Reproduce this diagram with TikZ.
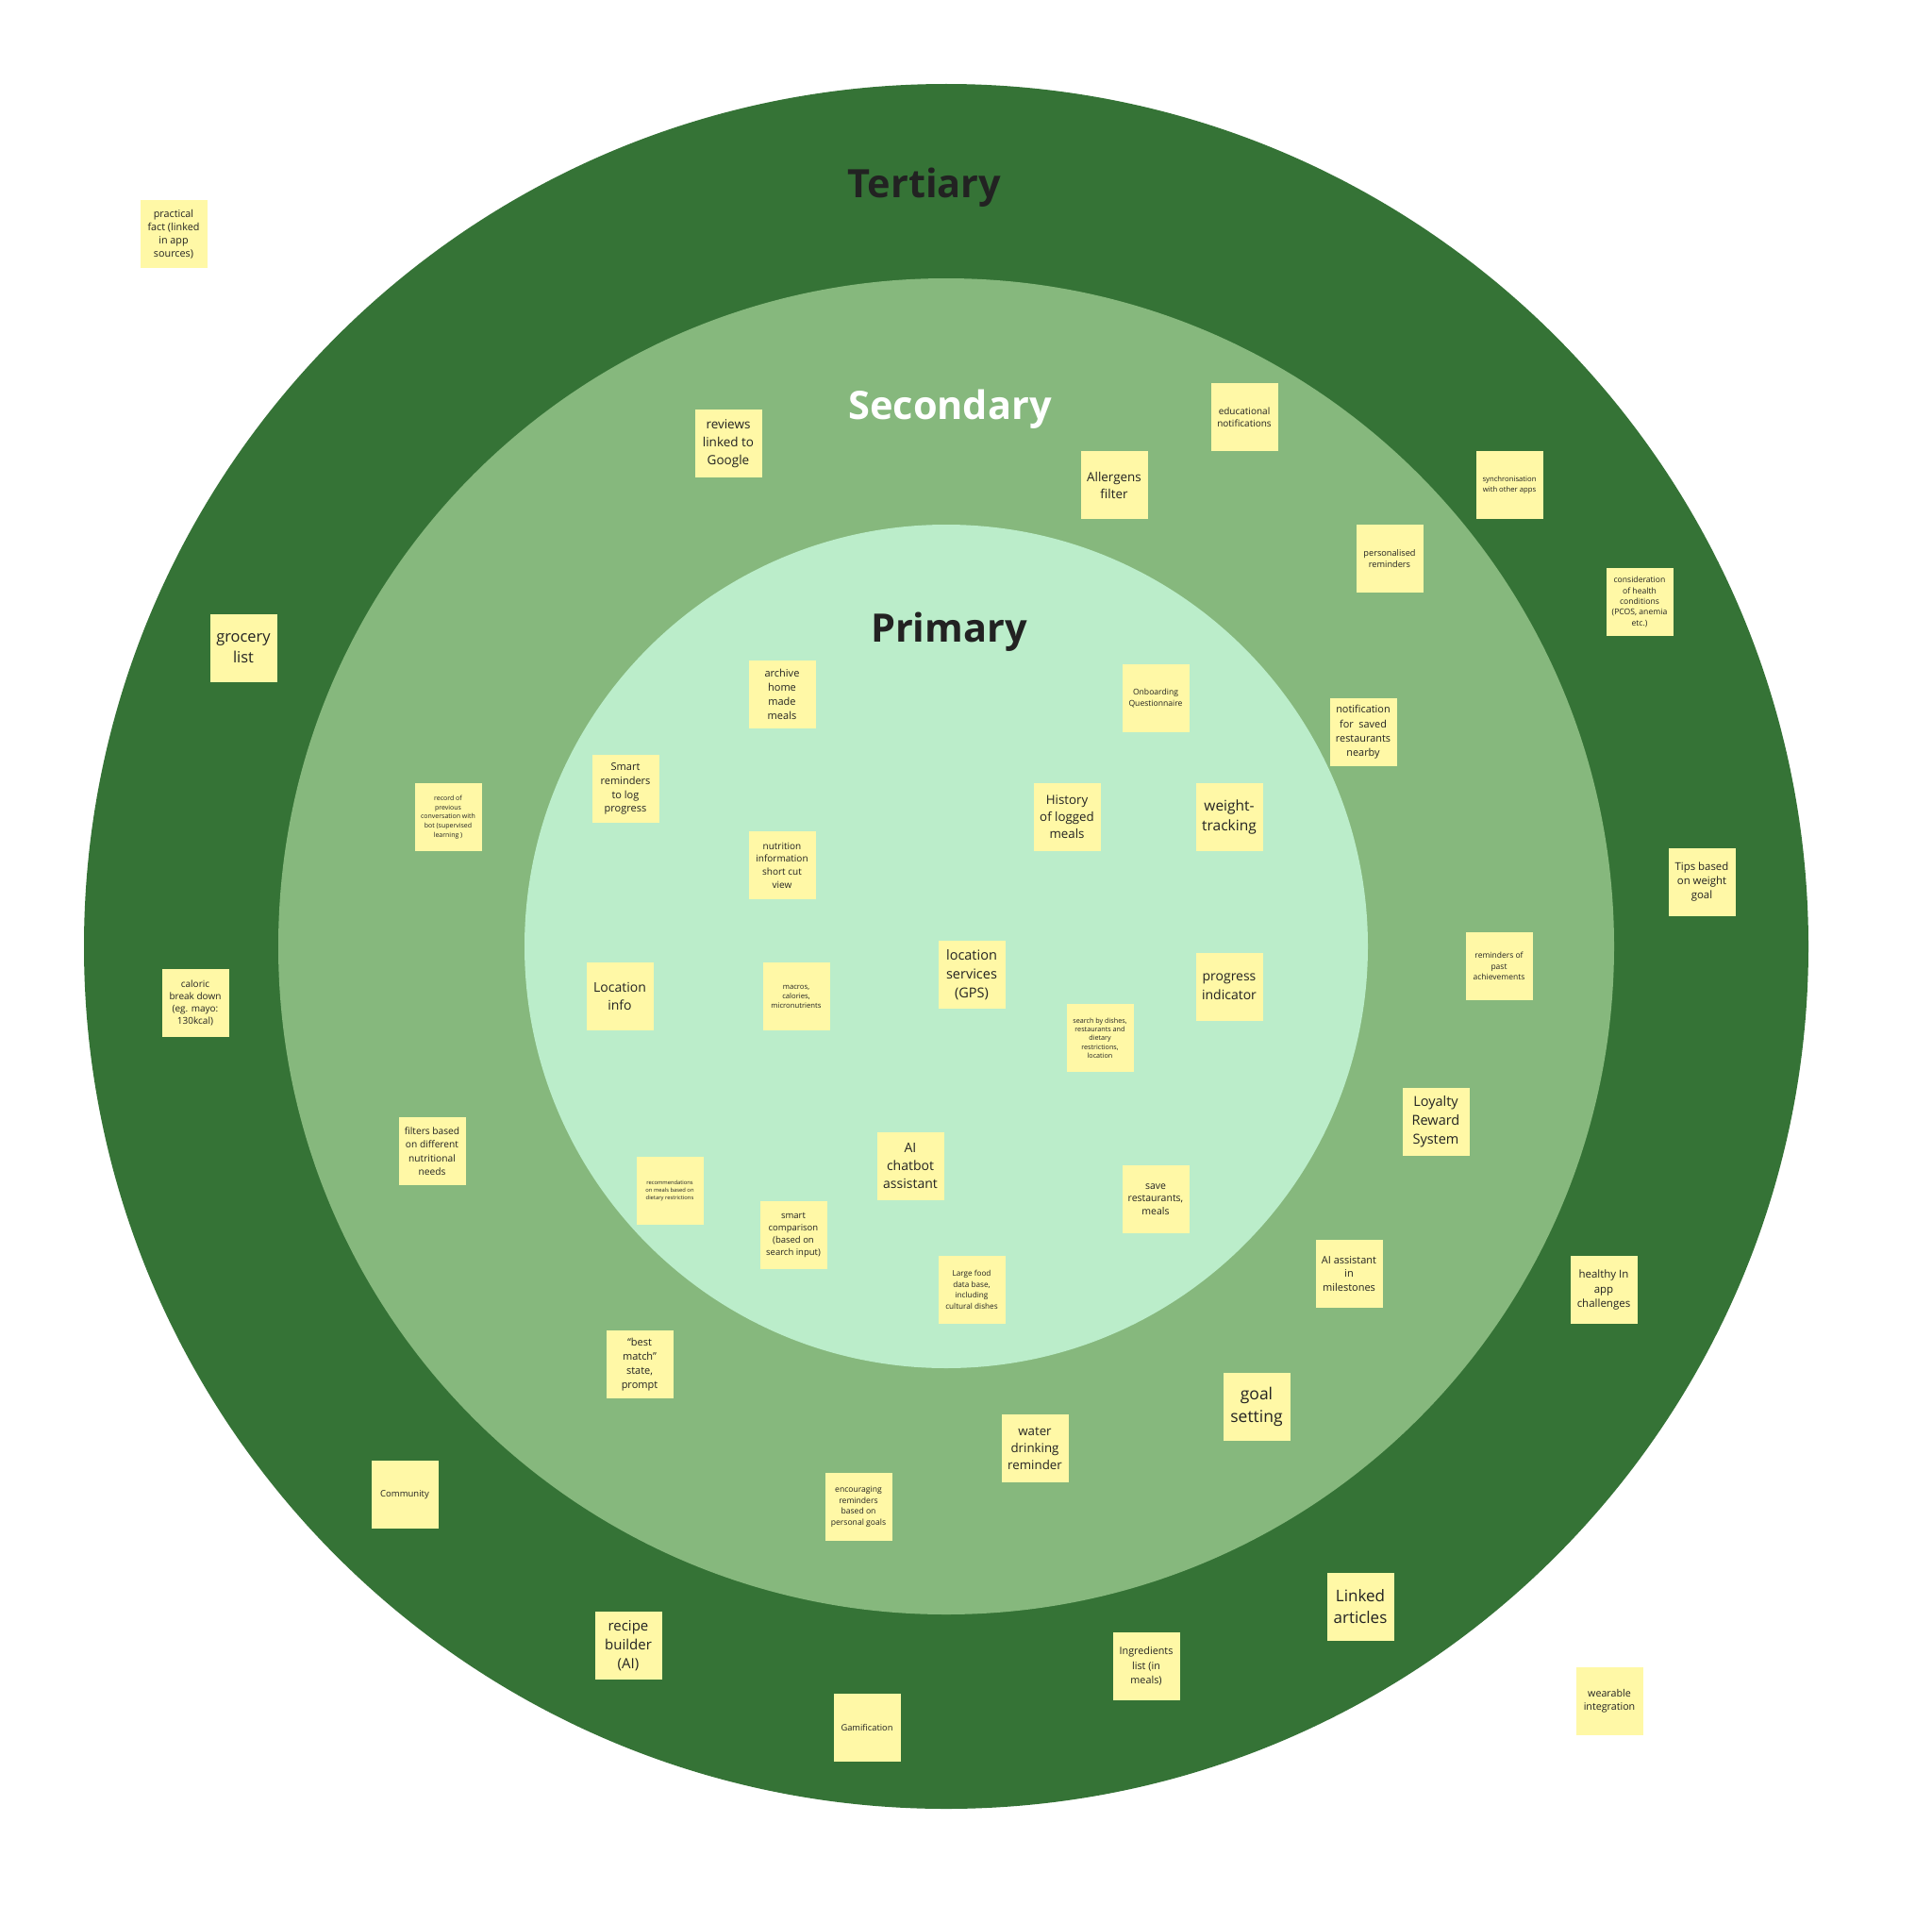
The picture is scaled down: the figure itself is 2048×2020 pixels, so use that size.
\documentclass[tikz,border=0pt]{standalone}
\usepackage{fontspec}
\setmainfont{Open Sans}
\definecolor{ringout}{HTML}{357336}
\definecolor{ringmid}{HTML}{86B87D}
\definecolor{ringin}{HTML}{BBEDCA}
\definecolor{notey}{HTML}{FFF8A6}
\definecolor{inkc}{HTML}{222222}
\tikzset{
  note/.style={fill=notey, minimum width=71pt, minimum height=72pt, inner sep=0pt, align=center, text=inkc},
  fs/.style 2 args={font=\fontsize{#1}{#2}\selectfont},
  ringtitle/.style={anchor=base, font=\fontsize{41.5}{48}\bfseries\selectfont, inner sep=0pt}
}
\begin{document}
\begin{tikzpicture}[x=1pt,y=-1pt]
\useasboundingbox (0,0) rectangle (2048,2020);
\fill[white] (0,0) rectangle (2048,2020);
% rings
\fill[ringout] (1003,1003) circle[radius=914];
\fill[ringmid] (1003,1003) circle[radius=708];
\fill[ringin] (1003,1003) circle[radius=447];
% titles
\node[ringtitle, text=inkc] (tert) at (980,210) {Tertiary};
\node[ringtitle, text=white] (sec) at (1007,444) {Secondary};
\node[ringtitle, text=inkc] (prim) at (1006,680) {Primary};
% notes
\node[note, fs={10.8}{14}] (n1) at (184,248) {practical\\fact (linked\\in app\\sources)};
\node[note, fs={13.5}{19}] (n5) at (772,470) {reviews\\linked to\\Google};
\node[note, fs={13.4}{18}] (n6) at (1181,514) {Allergens\\filter};
\node[note, fs={10}{13.3}] (n7) at (1319,442) {educational\\notifications};
\node[note, fs={7.7}{10.3}] (n8) at (1600,514) {synchronisation\\with other apps};
\node[note, fs={9.2}{12.3}] (n9) at (1473,592) {personalised\\reminders};
\node[note, fs={8.6}{11.3}] (n10) at (1738,638) {consideration\\of health\\conditions\\(PCOS, anemia\\etc.)};
\node[note, fs={16.4}{22}] (n11) at (258,687) {grocery\\list};
\node[note, fs={11}{15}] (n12) at (829,736) {archive\\home\\made\\meals};
\node[note, fs={8.6}{11.7}] (n13) at (1225,740) {Onboarding\\Questionnaire};
\node[note, fs={10.9}{15.3}] (n14) at (1445,776) {notification\\for\ \ saved\\restaurants\\nearby};
\node[note, fs={11}{14.7}] (n15) at (663,836) {Smart\\reminders\\to log\\progress};
\node[note, fs={7}{9.7}] (n16) at (475,866) {record of\\previous\\conversation with\\bot (supervised\\learning )};
\node[note, fs={13.3}{18}] (n17) at (1131,866) {History\\of logged\\meals};
\node[note, fs={15.5}{21.7}] (n18) at (1303,866) {weight-\\tracking};
\node[note, fs={10}{13.7}] (n19) at (829,917) {nutrition\\information\\short cut\\view};
\node[note, fs={11.4}{15}] (n20) at (1804,935) {Tips based\\on weight\\goal};
\node[note, fs={8.5}{11.3}] (n21) at (1589,1024) {reminders of\\past\\achievements};
\node[note, fs={14.5}{20}] (n22) at (1030,1033) {location\\services\\(GPS)};
\node[note, fs={14}{18.3}] (n23) at (657,1056) {Location\\info};
\node[note, fs={7.7}{10}] (n24) at (844,1056) {macros,\\calories,\\micronutrients};
\node[note, fs={14}{19.6}] (n25) at (1303,1046) {progress\\indicator};
\node[note, fs={10}{13.3}] (n26) at (207,1063) {caloric\\break down\\(eg. mayo:\\130kcal)};
\node[note, fs={7.2}{9.3}] (n27) at (1166,1100) {search by dishes,\\restaurants and\\dietary\\restrictions,\\location};
\node[note, fs={14.5}{20}] (n28) at (1522,1189) {Loyalty\\Reward\\System};
\node[note, fs={10.2}{14.5}] (n29) at (458,1220) {filters based\\on different\\nutritional\\needs};
\node[note, fs={14}{19}] (n30) at (965,1236) {AI\\chatbot\\assistant};
\node[note, fs={5.8}{8.3}] (n31) at (710,1262) {recommendations\\on meals based on\\dietary restrictions};
\node[note, fs={10.5}{13.7}] (n32) at (1225,1271) {save\\restaurants,\\meals};
\node[note, fs={9.5}{12.7}] (n33) at (841,1309) {smart\\comparison\\(based on\\search input)};
\node[note, fs={11}{14.7}] (n34) at (1430,1350) {AI assistant\\in\\milestones};
\node[note, fs={11.5}{15.5}] (n35) at (1700,1367) {healthy In\\app\\challenges};
\node[note, fs={8.2}{11.7}] (n36) at (1030,1367) {Large food\\data base,\\including\\cultural dishes};
\node[note, fs={11}{15}] (n37) at (678,1446) {``best\\match''\\state,\\prompt};
\node[note, fs={17.5}{24}] (n38) at (1332,1491) {goal\\setting};
\node[note, fs={13.3}{18.3}] (n39) at (1097,1535) {water\\drinking\\reminder};
\node[note, fs={9.5}{12.7}] (n40) at (429,1584) {Community};
\node[note, fs={8.6}{11.7}] (n41) at (910,1597) {encouraging\\reminders\\based on\\personal goals};
\node[note, fs={17}{23}] (n42) at (1442,1703) {Linked\\articles};
\node[note, fs={15}{20}] (n43) at (666,1744) {recipe\\builder\\(AI)};
\node[note, fs={10.8}{15.5}] (n44) at (1215,1766) {Ingredients\\list (in\\meals)};
\node[note, fs={9.3}{12.5}] (n45) at (919,1831) {Gamification};
\node[note, fs={10.7}{14.3}] (n46) at (1706,1803) {wearable\\integration};
\end{tikzpicture}
\end{document}
